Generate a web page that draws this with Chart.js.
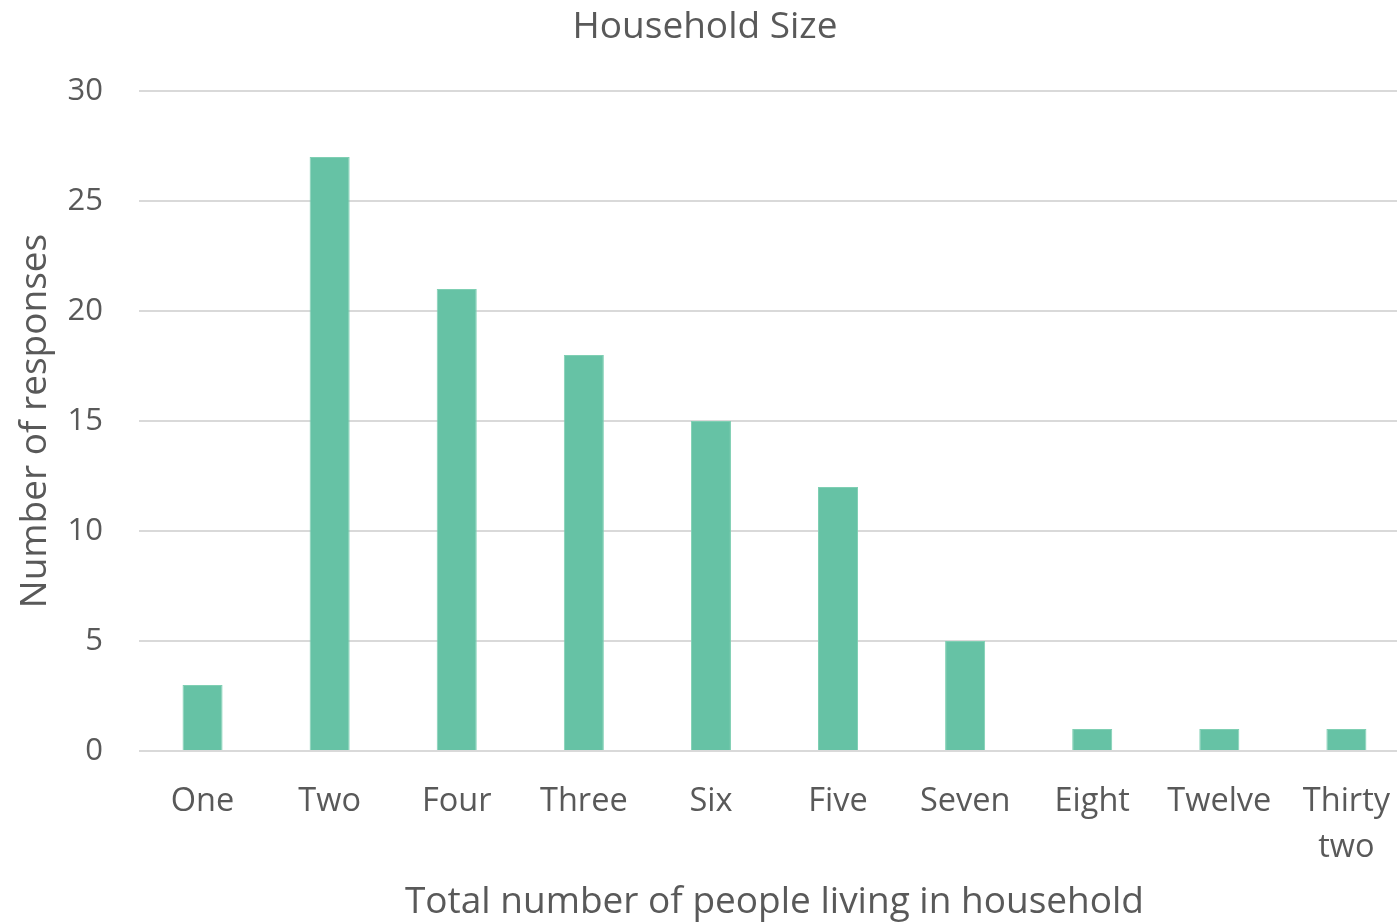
<!DOCTYPE html>
<html>
<head>
<meta charset="utf-8">
<title>Household Size</title>
<script src="https://cdn.jsdelivr.net/npm/chart.js@4.4.1/dist/chart.umd.min.js"></script>
<style>
  html, body { margin: 0; padding: 0; background: #fff; overflow: hidden; }
  /* the plot runs slightly past the right edge of the window */
  #wrap { width: 1410px; height: 923px; }
</style>
</head>
<body>
<div id="wrap"><canvas id="householdChart"></canvas></div>
<script>
// household size survey responses
const categories = ['One', 'Two', 'Four', 'Three', 'Six', 'Five', 'Seven', 'Eight', 'Twelve', ['Thirty', 'two']];
const responses = [3, 27, 21, 18, 15, 12, 5, 1, 1, 1];
const yTicks = [0, 5, 10, 15, 20, 25, 30];

const textColor = '#595959';
const gridColor = '#d9d9d9';
const fontFamily = '"Open Sans", "Liberation Sans", sans-serif';

const ctx = document.getElementById('householdChart');
const householdChart = new Chart(ctx, {
    type: 'bar',
    data: {
        labels: categories,
        datasets: [{
            label: 'Responses',
            data: responses,
            backgroundColor: '#66c2a5',
            borderColor: '#7fcfb3',
            borderWidth: 1,
            barPercentage: 0.315,
            categoryPercentage: 1.0
        }]
    },
    options: {
        responsive: true,
        maintainAspectRatio: false,
        animation: false,
        layout: { padding: 0 },
        scales: {
            x: {
                grid: { display: false },
                border: { display: false },
                ticks: {
                    color: textColor,
                    maxRotation: 0,
                    autoSkip: false,
                    padding: 20,
                    font: { family: fontFamily, size: 32.5, lineHeight: 1.415 }
                },
                title: {
                    display: true,
                    text: 'Total number of people living in household',
                    color: textColor,
                    padding: { top: 0, bottom: 0 },
                    font: { family: fontFamily, size: 37, lineHeight: 1.1 }
                },
                afterFit: function (scale) { scale.height = 172; }
            },
            y: {
                min: 0,
                max: 30,
                afterBuildTicks: function (scale) {
                    scale.ticks = yTicks.map(v => ({ value: v }));
                },
                grid: { color: gridColor, lineWidth: 2, drawTicks: false },
                border: { display: false },
                ticks: {
                    color: textColor,
                    padding: 36,
                    font: { family: fontFamily, size: 31 }
                },
                title: {
                    display: true,
                    text: 'Number of responses',
                    color: textColor,
                    padding: { top: 13, bottom: 0 },
                    font: { family: fontFamily, size: 37, lineHeight: 1.2 }
                },
                afterFit: function (scale) { scale.width = 139; }
            }
        },
        plugins: {
            title: {
                display: true,
                text: 'Household Size',
                color: textColor,
                padding: { top: 5, bottom: 41.6 },
                font: { family: fontFamily, size: 37, weight: 'normal', lineHeight: 1.2 }
            },
            legend: { display: false },
            tooltip: { enabled: false }
        }
    }
});
</script>
</body>
</html>
